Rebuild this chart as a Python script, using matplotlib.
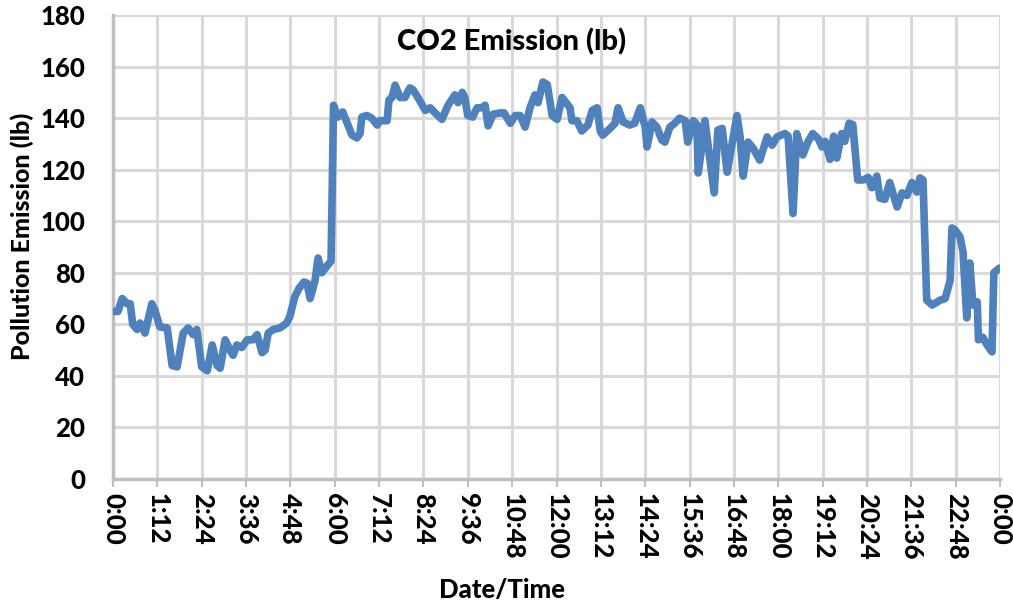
import matplotlib
matplotlib.use("Agg")
import matplotlib.pyplot as plt

# readings (time of day, lb of CO2)
times = [
    "0:00", "0:08", "0:15", "0:23", "0:28", "0:32", "0:39", "0:44", "0:52", "1:03",
    "1:08", "1:16", "1:28", "1:36", "1:44", "1:54", "2:02", "2:10", "2:16", "2:24",
    "2:33", "2:41", "2:49", "2:54", "3:02", "3:10", "3:15", "3:21", "3:29", "3:38",
    "3:47", "3:54", "4:02", "4:07", "4:12", "4:20", "4:31", "4:42", "4:47", "4:55",
    "5:02", "5:10", "5:15", "5:20", "5:28", "5:33", "5:39", "5:47", "5:54", "5:58",
    "6:05", "6:13", "6:28", "6:36", "6:41", "6:44", "6:52", "7:00", "7:09", "7:13",
    "7:25", "7:28", "7:33", "7:38", "7:46", "7:54", "8:02", "8:07", "8:15", "8:27",
    "8:35", "8:43", "8:54", "9:04", "9:15", "9:20", "9:27", "9:31", "9:36", "9:44",
    "9:51", "9:59", "10:04", "10:09", "10:17", "10:28", "10:35", "10:45", "10:53", "11:01",
    "11:09", "11:17", "11:25", "11:30", "11:38", "11:45", "11:53", "12:01", "12:09", "12:22",
    "12:25", "12:33", "12:41", "12:51", "12:58", "13:06", "13:11", "13:15", "13:27", "13:35",
    "13:40", "13:48", "13:59", "14:07", "14:16", "14:24", "14:27", "14:35", "14:43", "14:51",
    "14:56", "15:04", "15:12", "15:20", "15:29", "15:33", "15:42", "15:48", "15:50", "15:56",
    "16:01", "16:09", "16:16", "16:22", "16:29", "16:37", "16:45", "16:53", "16:58", "17:03",
    "17:11", "17:19", "17:30", "17:42", "17:50", "17:58", "18:11", "18:16", "18:24", "18:30",
    "18:40", "18:48", "18:56", "19:05", "19:11", "19:16", "19:24", "19:30", "19:35", "19:43",
    "19:48", "19:55", "20:01", "20:09", "20:18", "20:26", "20:32", "20:40", "20:45", "20:53",
    "21:01", "21:13", "21:21", "21:29", "21:37", "21:45", "21:50", "21:55", "22:01", "22:10",
    "22:23", "22:31", "22:39", "22:42", "22:47", "22:55", "23:00", "23:06", "23:11", "23:16",
    "23:23", "23:25", "23:32", "23:39", "23:47", "23:50", "23:59",
]
co2 = [
    65, 65, 70, 68, 68, 60, 58, 60.5, 56.6, 68,
    65.5, 59, 58.6, 44, 43.5, 56.6, 58.6, 56, 58, 43.5,
    42, 52, 44, 43, 54, 50, 48, 52, 51, 54,
    54, 56, 49, 50, 56.6, 58, 58.6, 60.5, 63, 70.6,
    74, 76.4, 76, 70, 77, 85.7, 80, 82.5, 84.5, 145,
    140.4, 142.4, 133.4, 132.3, 134, 140.4, 141, 140, 137.3, 139,
    139, 147, 148, 152.8, 148, 148, 151.7, 151, 148, 143,
    144, 142, 139.5, 145, 149, 146, 150, 148, 141, 140.4,
    144, 144, 145, 137, 141.5, 142, 142, 138, 141, 141,
    136.5, 144, 149, 146, 154, 153, 141, 139.5, 148, 144,
    139, 139, 135, 137.3, 143, 144, 135, 133.4, 136, 138,
    144, 138.5, 137.3, 138, 144, 136.5, 128.8, 138.5, 136.5, 131.5,
    130.7, 136.5, 138, 140, 139, 130.7, 139, 137.5, 118.7, 128.8,
    139, 124, 111, 135.4, 136, 119, 130, 141, 133, 117.5,
    130.7, 128.4, 123.7, 132.7, 129.5, 132.7, 134, 133, 103, 134,
    125.7, 130.7, 134, 132, 128.8, 131, 124, 133, 124.5, 134,
    131, 138, 137.5, 116, 116, 117, 113, 117.5, 109, 108.5,
    115, 105.5, 111, 110, 115, 111.3, 116.8, 116, 69.4, 67.5,
    69.4, 70, 77, 97.4, 96.6, 94, 88, 62.5, 83.8, 67.5,
    68.7, 54, 55, 52, 49.3, 80, 81.8,
]
tick_labels = ["0:00", "1:12", "2:24", "3:36", "4:48", "6:00", "7:12", "8:24", "9:36",
               "10:48", "12:00", "13:12", "14:24", "15:36", "16:48", "18:00", "19:12",
               "20:24", "21:36", "22:48", "0:00"]
y_ticks = [0, 20, 40, 60, 80, 100, 120, 140, 160, 180]

minutes = [int(t.split(":")[0]) * 60 + int(t.split(":")[1]) for t in times]
tick_pos = [i * 72 for i in range(len(tick_labels))]

plt.rcParams['font.family'] = ['Lato', 'DejaVu Sans']
W = 'black'  # heaviest Lato available

fig = plt.figure(figsize=(10.13, 6.06), dpi=100)
ax = fig.add_axes([113 / 1013, 1 - 479 / 606, 887 / 1013, 464 / 606])

ax.plot(minutes, co2, color='#4F81BD', linewidth=5.5, solid_joinstyle='round',
        solid_capstyle='round', zorder=3)

ax.set_xlim(0, 1440)
ax.set_ylim(0, 180)
ax.set_xticks(tick_pos)
ax.set_xticklabels(tick_labels, rotation=-90, fontsize=18.5, fontweight=W)
ax.set_yticks(y_ticks)
ax.set_yticklabels([str(v) for v in y_ticks], fontsize=18.5, fontweight=W)

ax.grid(True, color='#D9D9D9', linewidth=2.2)
ax.set_axisbelow(True)
for s in ['top', 'right']:
    ax.spines[s].set_visible(False)
for s in ['left', 'bottom']:
    ax.spines[s].set_color('#BFBFBF')
    ax.spines[s].set_linewidth(2.5)
ax.tick_params(axis='x', length=6, width=1.5, color='#BFBFBF', pad=4)
ax.tick_params(axis='y', length=0, pad=20)

fig.text(0.505, 0.931, 'CO2 Emission (lb)', ha='center', va='center',
         fontsize=21, fontweight=W)
fig.text(0.022, 0.61, 'Pollution Emission (lb)', ha='center', va='center',
         rotation=90, fontsize=18, fontweight=W)
fig.text(0.496, 0.026, 'Date/Time', ha='center', va='center',
         fontsize=18.5, fontweight=W)

fig.savefig('out.png', dpi=100)
